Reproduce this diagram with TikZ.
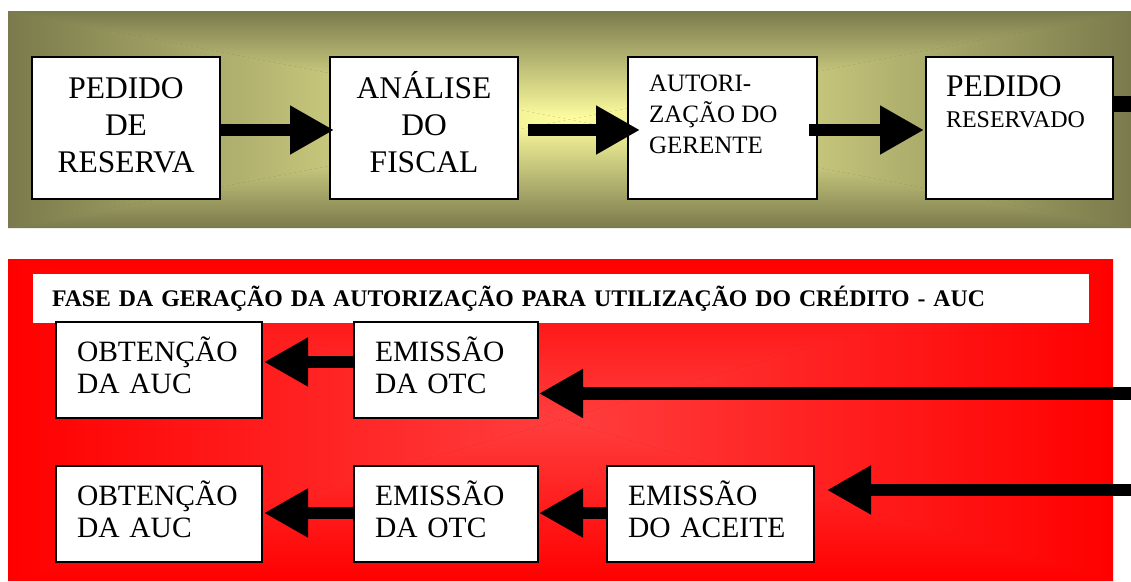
\documentclass[tikz,border=0pt]{standalone}
\usepackage{fontspec}
\setmainfont{Liberation Serif}
\usetikzlibrary{arrows.meta,calc}
\definecolor{oliva}{RGB}{122,122,76}
\definecolor{amarelo}{RGB}{255,255,160}
\definecolor{vermelho}{RGB}{255,0,0}
\definecolor{rosado}{RGB}{255,62,62}
\tikzset{
  etapa/.style={draw, line width=2pt, fill=white, inner sep=0pt},
  seta/.style={line width=12.5pt, -{Triangle[length=44pt,width=46pt]}}
}
\newcommand{\grande}{\fontsize{31.5}{37}\selectfont}
\newcommand{\medio}{\fontsize{29.5}{32}\selectfont}

\begin{document}
\begin{tikzpicture}[x=1pt,y=-1pt]
\useasboundingbox (0,0) rectangle (1131,581);
% faixa superior
\fill[oliva] (8,11) rectangle (1131,228);
\shade[top color=oliva,bottom color=amarelo] (8,11) -- (1131,11) -- (569.5,119.5) -- cycle;
\shade[bottom color=oliva,top color=amarelo] (8,228) -- (1131,228) -- (569.5,119.5) -- cycle;
\shade[left color=oliva,right color=amarelo] (8,11) -- (569.5,119.5) -- (8,228) -- cycle;
\shade[right color=oliva,left color=amarelo] (1131,11) -- (569.5,119.5) -- (1131,228) -- cycle;
% faixa inferior
\fill[vermelho] (8,259) rectangle (1113,581);
\shade[top color=vermelho,bottom color=rosado] (8,259) -- (1113,259) -- (560.5,420) -- cycle;
\shade[bottom color=vermelho,top color=rosado] (8,581) -- (1113,581) -- (560.5,420) -- cycle;
\shade[left color=vermelho,right color=rosado] (8,259) -- (560.5,420) -- (8,581) -- cycle;
\shade[right color=vermelho,left color=rosado] (1113,259) -- (560.5,420) -- (1113,581) -- cycle;

\node[fill=white, minimum width=1056pt, minimum height=49pt, inner xsep=19pt, inner ysep=0pt,
  text width=1018pt, align=left, font=\fontsize{23.8}{28}\selectfont\bfseries] (fase) at (561,298.5)
  {FASE DA GERAÇÃO DA AUTORIZAÇÃO PARA UTILIZAÇÃO DO CRÉDITO - AUC};

% etapas de cima
\node[etapa, minimum width=188pt, minimum height=142pt, align=center, font=\grande] (pedido) at (126,128)
  {\strut PEDIDO\\DE\\RESERVA\strut};
\node[etapa, minimum width=188pt, minimum height=142pt, align=center, font=\grande] (analise) at (424,128)
  {\strut ANÁLISE\\DO\\FISCAL\strut};
\node[etapa, minimum width=189pt, minimum height=142pt, inner xsep=21pt] (autoriza) at (722.5,128)
  {\parbox[c][142pt][t]{147pt}{\fontsize{25}{31}\selectfont\vspace*{13pt}\strut AUTORI-\\ZAÇÃO DO\\GERENTE}};
\node[etapa, minimum width=187pt, minimum height=142pt, inner xsep=20pt] (reservado) at (1019.5,128)
  {\parbox[c][142pt][t]{147pt}{\vspace*{18pt}{\fontsize{31.5}{31}\selectfont\strut PEDIDO\par}{\fontsize{24}{31}\selectfont RESERVADO\par}}};

% etapas de baixo
\node[etapa, minimum width=206pt, minimum height=96pt, inner xsep=21pt, text width=164pt, align=left, font=\medio] (obtencaoA) at (159,370)
  {\strut OBTENÇÃO\\DA AUC\strut};
\node[etapa, minimum width=184pt, minimum height=96pt, inner xsep=21pt, text width=142pt, align=left, font=\medio] (otcA) at (446,370)
  {\strut EMISSÃO\\DA OTC\strut};
\node[etapa, minimum width=206pt, minimum height=96pt, inner xsep=21pt, text width=164pt, align=left, font=\medio] (obtencaoB) at (159,514)
  {\strut OBTENÇÃO\\DA AUC\strut};
\node[etapa, minimum width=184pt, minimum height=96pt, inner xsep=21pt, text width=142pt, align=left, font=\medio] (otcB) at (446,514)
  {\strut EMISSÃO\\DA OTC\strut};
\node[etapa, minimum width=207pt, minimum height=96pt, inner xsep=21pt, text width=165pt, align=left, font=\medio] (aceite) at (710.5,514)
  {\strut EMISSÃO\\DO ACEITE\strut};

% setas
\draw[seta] ($(pedido.east)+(0,2)$) -- ($(analise.west)+(5,2)$);
\draw[seta] ($(analise.east)+(9,2)$) -- ($(autoriza.west)+(13,2)$);
\draw[seta] ($(autoriza.east)+(-9,2)$) -- ($(reservado.west)+(-1,2)$);
\coordinate (saida) at (1135,104);
\draw[line width=16pt] (reservado.east |- saida) -- (saida);

\coordinate (entradaA) at (1135,393.5);
\draw[seta] (entradaA) -- ($(otcA.east)+(0,23.5)$);
\draw[seta] ($(otcA.west)+(0,-8)$) -- ($(obtencaoA.east)+(1,-8)$);
\coordinate (entradaB) at (1135,490);
\draw[seta] (entradaB) -- ($(aceite.east)+(12,-24)$);
\draw[seta] ($(aceite.west)+(0,-1)$) -- ($(otcB.east)+(0,-1)$);
\draw[seta] ($(otcB.west)+(0,-1)$) -- ($(obtencaoB.east)+(1,-1)$);
\end{tikzpicture}
\end{document}
